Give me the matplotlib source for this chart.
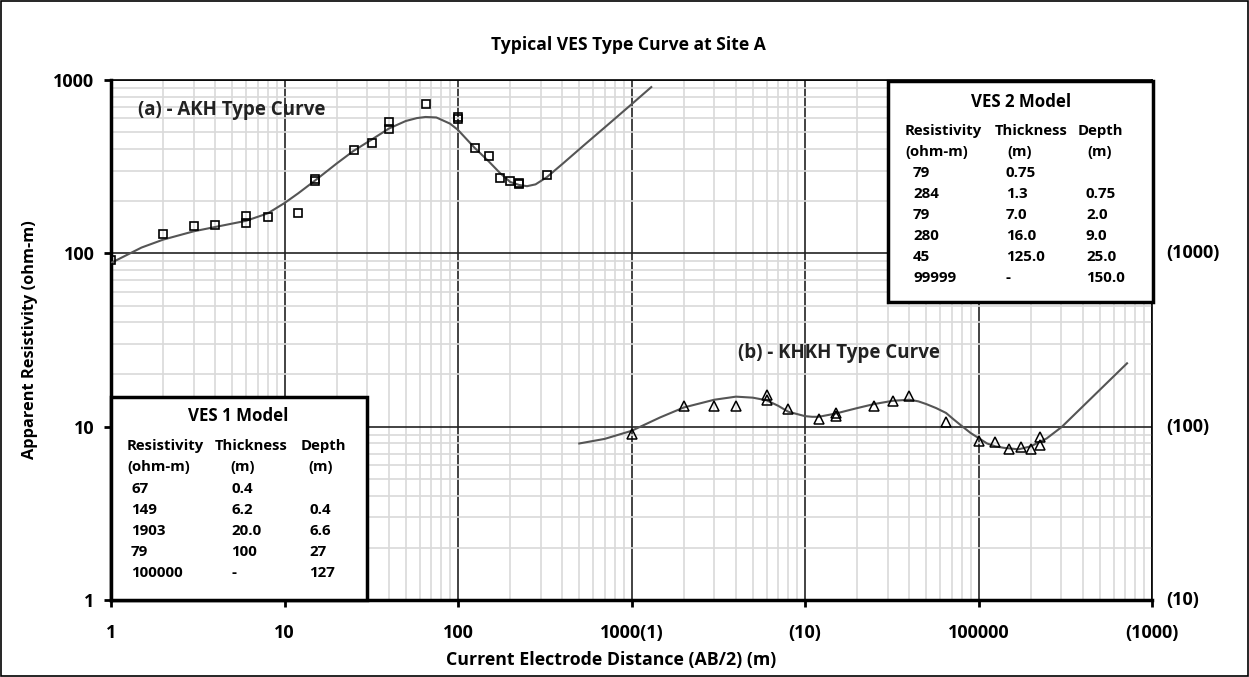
import matplotlib.pyplot as plt
from matplotlib.patches import Rectangle
from matplotlib.transforms import blended_transform_factory
import numpy as np

plt.rcParams['font.family'] = ['Open Sans', 'DejaVu Sans']
plt.rcParams['font.weight'] = 'bold'
plt.rcParams['axes.labelweight'] = 'bold'

# (a) AKH curve - field data and model, AB/2 (m) vs rho (ohm-m)
a_ab2 = [1, 2, 3, 4, 6, 6, 8, 12, 15, 15, 25, 32, 40, 40, 65, 100, 100, 125, 150, 175, 200, 225, 225, 325]
a_rho = [91, 130, 144, 145, 165, 150, 162, 172, 263, 268, 396, 434, 571, 523, 729, 592, 610, 405, 362, 273, 261, 251, 255, 284]
a_model_ab2 = [1, 1.5, 2, 3, 4, 6, 8, 10, 12, 15, 20, 25, 32, 40, 50, 58, 65, 75, 90, 100, 125, 150, 175, 200, 225, 250, 280, 325, 400, 530, 720, 1000, 1300]
a_model_rho = [88, 108, 120, 134, 142, 154, 170, 195, 222, 263, 330, 390, 455, 525, 580, 603, 612, 608, 560, 515, 405, 340, 290, 258, 248, 244, 250, 275, 328, 419, 545, 724, 910]

# (b) KHKH curve - plotted on shifted scales (x*1000, y/10)
b_ab2 = [1, 2, 3, 4, 6, 6, 8, 12, 15, 15, 25, 32, 40, 65, 100, 125, 150, 175, 200, 225, 225]
b_rho = [91, 131, 132, 131, 152, 143, 126, 110, 115, 120, 132, 140, 150, 106, 83, 82, 74, 76, 74, 78, 87]
b_model_ab2 = [0.5, 0.7, 1, 1.46, 2, 3, 4, 5, 6, 7, 8, 10, 11, 12, 15, 20, 25, 32, 40, 45, 50, 57, 65, 72, 80, 90, 100, 112, 125, 140, 170, 200, 247, 302, 500, 718]
b_model_rho = [80, 85, 94.6, 113, 129, 143, 149, 147, 142, 132, 122, 115, 114, 114, 119, 128, 135, 141, 143, 140, 135, 128, 120, 110, 101, 92, 86, 80, 77, 75.5, 74, 77, 85.5, 99.7, 163, 232]
b_xscale = 1000
b_yscale = 10

xticks = [1, 10, 100, 1000, 10000, 100000, 1000000]
xtick_labels = ['1', '10', '100', '1000(1)', '(10)', '100000', '(1000)']
yticks = [1, 10, 100, 1000]
ytick_labels = ['1', '10', '100', '1000']
right_ticks = [1, 10, 100]
right_labels = ['(10)', '(100)', '(1000)']

ves1_rows = [['67', '0.4', ''], ['149', '6.2', '0.4'], ['1903', '20.0', '6.6'],
             ['79', '100', '27'], ['100000', '-', '127']]
ves2_rows = [['79', '0.75', ''], ['284', '1.3', '0.75'], ['79', '7.0', '2.0'],
             ['280', '16.0', '9.0'], ['45', '125.0', '25.0'], ['99999', '-', '150.0']]

fig = plt.figure(figsize=(12.49, 6.77), dpi=100)
ax = fig.add_axes([111/1249, 77/677, 1041/1249, 520/677])
ax.set_xscale('log')
ax.set_yscale('log')
ax.set_xlim(1, 1e6)
ax.set_ylim(1, 1000)

ax.grid(True, which='minor', color='#d9d9d9', lw=1.2, zorder=0)
ax.grid(True, which='major', color='#222222', lw=1.2, zorder=1)
ax.set_axisbelow(True)

ax.plot(a_model_ab2, a_model_rho, color='#555555', lw=1.5, zorder=3)
ax.plot(a_ab2, a_rho, 's', ms=6, mfc='none', mec='black', mew=1.2, zorder=4)
bx = np.array(b_model_ab2) * b_xscale
by = np.array(b_model_rho) / b_yscale
ax.plot(bx, by, color='#555555', lw=1.5, zorder=3)
ax.plot(np.array(b_ab2) * b_xscale, np.array(b_rho) / b_yscale, '^', ms=7,
        mfc='none', mec='black', mew=1.1, zorder=4)

ax.set_xticks(xticks)
ax.set_xticklabels(xtick_labels)
ax.set_yticks(yticks)
ax.set_yticklabels(ytick_labels)
ax.tick_params(which='minor', length=0)
ax.tick_params(which='major', length=5, width=2, labelsize=13, pad=12)
ax.tick_params(axis='y', pad=7)
for side in ['left', 'bottom']:
    ax.spines[side].set_linewidth(2.5)
for side in ['top', 'right']:
    ax.spines[side].set_linewidth(1.2)

trans = blended_transform_factory(ax.transAxes, ax.transData)
for v, lab in zip(right_ticks, right_labels):
    ax.text(1.014, v, lab, transform=trans, fontsize=13, va='center', ha='left')

ax.set_xlabel('Current Electrode Distance (AB/2) (m)', fontsize=12.8)
ax.xaxis.set_label_coords(0.48, -0.098)
ax.set_ylabel('Apparent Resistivity (ohm-m)', fontsize=11.8)
ax.yaxis.set_label_coords(-0.07, 0.5)
fig.text(628/1249, 1 - 45/677, 'Typical VES Type Curve at Site A', fontsize=12.6,
         ha='center', va='center')

ax.text(138/1249, 1 - 110/677, '(a) - AKH Type Curve', transform=fig.transFigure,
        fontsize=13.5, va='center', color='#222222', zorder=5)
ax.text(738/1249, 1 - 353/677, '(b) - KHKH Type Curve', transform=fig.transFigure,
        fontsize=13.5, va='center', color='#222222', zorder=5)


def px(x, y):
    return x / 1249, 1 - y / 677


def model_box(x0, y0, x1, y1, title, title_x, title_y, cols, head_y, row_y, row_dy, rows, col_x):
    fig.patches.append(Rectangle(px(x0, y1), (x1 - x0) / 1249, (y1 - y0) / 677,
                                 transform=fig.transFigure, facecolor='white',
                                 edgecolor='black', lw=2.5, zorder=6))
    fig.text(*px(title_x, title_y), title, fontsize=12.2, ha='center', va='center', zorder=7)
    for i, (h1, h2) in enumerate(cols):
        fig.text(*px(col_x[i][0], head_y), h1, fontsize=10.7, va='center', zorder=7)
        fig.text(*px(col_x[i][1], head_y + 21), h2, fontsize=10.7, va='center', zorder=7)
    for r, row in enumerate(rows):
        for i, val in enumerate(row):
            fig.text(*px(col_x[i][2], row_y + r * row_dy), val, fontsize=10.9,
                     va='center', zorder=7)


model_box(111, 397, 367, 600, 'VES 1 Model', 238, 416,
          [('Resistivity', '(ohm-m)'), ('Thickness', '(m)'), ('Depth', '(m)')],
          446, 489, 21, ves1_rows,
          [(127, 127, 131), (215, 230, 231), (301, 308, 309)])
model_box(888, 81, 1153, 302, 'VES 2 Model', 1021, 102,
          [('Resistivity', '(ohm-m)'), ('Thickness', '(m)'), ('Depth', '(m)')],
          131, 173, 21, ves2_rows,
          [(905, 905, 913), (995, 1007, 1006), (1078, 1087, 1086)])

fig.patches.append(Rectangle((0.001, 0.001), 0.998, 0.997, transform=fig.transFigure,
                             facecolor='none', edgecolor='black', lw=1.2))

fig.savefig('out.png', dpi=100)
